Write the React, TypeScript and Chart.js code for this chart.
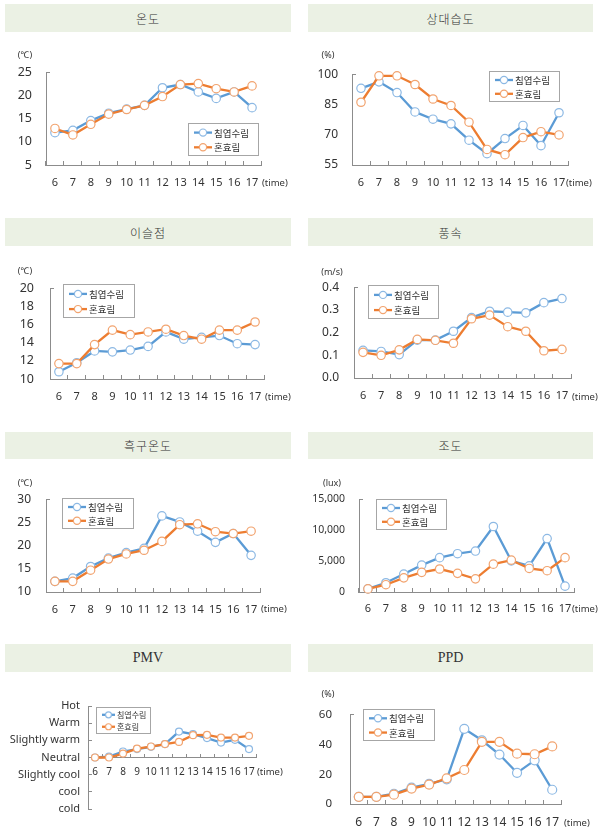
import React, { useEffect, useRef } from "react";
import { Chart, registerables } from "chart.js";

Chart.register(...registerables);

// ---------- data ----------
const hours = ["6", "7", "8", "9", "10", "11", "12", "13", "14", "15", "16", "17"];
const seriesNames = ["침엽수림", "혼효림"];

const tempConifer = [12.0, 12.5, 14.6, 16.2, 17.1, 17.9, 21.7, 22.4, 20.8, 19.4, 20.8, 17.4];
const tempMixed = [12.9, 11.5, 13.8, 16.0, 17.0, 17.9, 19.8, 22.4, 22.6, 21.5, 20.8, 22.1];

const humidConifer = [93.0, 96.2, 90.9, 81.3, 77.7, 75.4, 67.3, 60.6, 68.1, 74.6, 64.6, 80.9];
const humidMixed = [86.1, 99.2, 99.2, 94.9, 87.7, 84.5, 76.2, 62.7, 60.1, 68.6, 71.5, 69.9];

const dewConifer = [10.8, 11.8, 13.1, 13.0, 13.2, 13.6, 15.2, 14.4, 14.6, 14.8, 13.9, 13.8];
const dewMixed = [11.7, 11.7, 13.8, 15.4, 14.9, 15.2, 15.5, 14.8, 14.4, 15.4, 15.4, 16.3];

const windConifer = [0.122, 0.117, 0.103, 0.167, 0.167, 0.206, 0.266, 0.294, 0.29, 0.287, 0.332, 0.35];
const windMixed = [0.113, 0.1, 0.124, 0.17, 0.166, 0.153, 0.261, 0.277, 0.226, 0.206, 0.12, 0.126];

const globeConifer = [12.3, 13.0, 15.5, 17.3, 18.5, 19.4, 26.4, 25.1, 23.1, 20.7, 22.6, 17.9];
const globeMixed = [12.3, 12.3, 14.7, 17.1, 18.2, 19.0, 20.9, 24.5, 24.7, 23.0, 22.6, 23.1];

const luxConifer = [500, 1500, 2900, 4350, 5560, 6200, 6630, 10600, 5040, 4240, 8640, 950];
const luxMixed = [500, 1180, 2290, 3180, 3720, 3020, 2130, 4510, 5150, 3810, 3450, 5560];

const pmvConifer = [0.0, 0.05, 0.35, 0.49, 0.62, 0.78, 1.51, 1.36, 1.13, 0.87, 1.03, 0.49];
const pmvMixed = [0.0, 0.0, 0.23, 0.52, 0.64, 0.78, 0.91, 1.3, 1.32, 1.16, 1.16, 1.26];
const pmvLabels = ["cold", "cool", "Slightly cool", "Neutral", "Slightly warm", "Warm", "Hot"];

const ppdConifer = [4.8, 4.8, 6.9, 11.0, 13.5, 16.6, 50.6, 42.9, 33.3, 21.0, 29.4, 9.6];
const ppdMixed = [4.8, 4.8, 6.3, 10.4, 13.1, 17.3, 22.9, 41.9, 41.9, 33.9, 33.5, 38.8];

// ---------- styles ----------
const BLUE = "#5B9BD5";
const BLUE_PT = "#8DB9E4";
const ORANGE = "#ED7D31";
const ORANGE_PT = "#F2A470";
const AXIS = "#8C8C8C";
const TEXT = "#333333";
const BAR_BG = "#EBF1E4";
const SANS = '"Noto Sans", "Noto Sans CJK KR", sans-serif';
const KR = '"Noto Sans CJK KR", sans-serif';

type Spec = {
  title: string;
  col: number;
  bar: [number, number, number, number];
  area: { l: number; r: number; t: number; b: number };
  unit?: string;
  unitAt?: [number, number];
  timeAt: [number, number];
  legend: { x: number; y: number; w: number; h: number; font: number; line: number; r: number };
  yMin: number;
  yMax: number;
  yStep: number;
  yFmt: (v: number) => string;
  yFont: number;
  xFont: number;
  yGap: number;
  xLabelY: number;
  pointR: number;
  series: [number[], number[]];
  crossZero?: boolean;
};

const plain = (v: number) => String(v);

const specs: Spec[] = [
  {
    title: "온도", col: 0, bar: [5, 4, 286, 28], area: { l: 46, r: 261, t: 69, b: 165 },
    unit: "(℃)", unitAt: [25, 54], timeAt: [262, 183],
    legend: { x: 188, y: 123, w: 70, h: 32, font: 9.5, line: 18, r: 3.6 },
    yMin: 5, yMax: 25, yStep: 5, yFmt: plain, yFont: 12.5, xFont: 11, yGap: 14, xLabelY: 183,
    pointR: 4.2, series: [tempConifer, tempMixed],
  },
  {
    title: "상대습도", col: 1, bar: [308, 4, 285, 28], area: { l: 352, r: 568, t: 71, b: 165 },
    unit: "(%)", unitAt: [328, 54], timeAt: [566, 183],
    legend: { x: 489, y: 71, w: 70, h: 30, font: 9.5, line: 18, r: 3.6 },
    yMin: 55, yMax: 100, yStep: 15, yFmt: plain, yFont: 12, xFont: 11, yGap: 14, xLabelY: 183,
    pointR: 4.2, series: [humidConifer, humidMixed],
  },
  {
    title: "이슬점", col: 0, bar: [5, 218, 286, 28], area: { l: 50, r: 264, t: 283, b: 379 },
    unit: "(℃)", unitAt: [25, 270], timeAt: [265, 396.5],
    legend: { x: 63, y: 284, w: 71, h: 33, font: 9.5, line: 18, r: 3.6 },
    yMin: 10, yMax: 20, yStep: 2, yFmt: plain, yFont: 12.5, xFont: 11, yGap: 16, xLabelY: 396.5,
    pointR: 4.2, series: [dewConifer, dewMixed],
  },
  {
    title: "풍속", col: 1, bar: [308, 218, 285, 28], area: { l: 354, r: 571, t: 283, b: 378 },
    unit: "(m/s)", unitAt: [332, 271], timeAt: [572, 396.5],
    legend: { x: 368, y: 285, w: 70, h: 33, font: 9.5, line: 18, r: 3.6 },
    yMin: 0, yMax: 0.4, yStep: 0.1, yFmt: (v) => v.toFixed(1), yFont: 12, xFont: 11, yGap: 15, xLabelY: 396,
    pointR: 4.2, series: [windConifer, windMixed],
  },
  {
    title: "흑구온도", col: 0, bar: [5, 432, 286, 27], area: { l: 46, r: 260, t: 495, b: 592 },
    unit: "(℃)", unitAt: [25, 482], timeAt: [261, 609],
    legend: { x: 62, y: 498, w: 71, h: 30, font: 9.5, line: 18, r: 3.6 },
    yMin: 10, yMax: 30, yStep: 5, yFmt: plain, yFont: 12, xFont: 11, yGap: 15, xLabelY: 609.5,
    pointR: 4.2, series: [globeConifer, globeMixed],
  },
  {
    title: "조도", col: 1, bar: [308, 432, 285, 27], area: { l: 359, r: 574, t: 497, b: 592 },
    unit: "(lux)", unitAt: [332, 482], timeAt: [572, 609],
    legend: { x: 376, y: 499, w: 70, h: 30, font: 9.5, line: 18, r: 3.6 },
    yMin: 0, yMax: 15000, yStep: 5000, yFmt: (v) => v.toLocaleString("en-US"), yFont: 10.5, xFont: 11, yGap: 14, xLabelY: 609,
    pointR: 4.2, series: [luxConifer, luxMixed],
  },
  {
    title: "PMV", col: 0, bar: [5, 644, 286, 28], area: { l: 88, r: 256, t: 706, b: 809 },
    timeAt: [257, 771.7],
    legend: { x: 96, y: 707, w: 54, h: 26, font: 8, line: 13, r: 3 },
    yMin: -3, yMax: 3, yStep: 1, yFmt: (v) => pmvLabels[Math.round(v) + 3] ?? "", yFont: 11, xFont: 10, yGap: 8, xLabelY: 771.7,
    pointR: 3.5, series: [pmvConifer, pmvMixed], crossZero: true,
  },
  {
    title: "PPD", col: 1, bar: [308, 644, 285, 28], area: { l: 350, r: 561, t: 708, b: 804 },
    unit: "(%)", unitAt: [328, 693], timeAt: [564, 822.5],
    legend: { x: 363, y: 709, w: 71, h: 31, font: 9.5, line: 18, r: 3.6 },
    yMin: 0, yMax: 60, yStep: 20, yFmt: plain, yFont: 11.5, xFont: 12, yGap: 18, xLabelY: 822.5,
    pointR: 4.5, series: [ppdConifer, ppdMixed],
  },
];

// ---------- legend plugin ----------
const boxLegend = {
  id: "boxLegend",
  afterDatasetsDraw(chart: any, _args: any, opts: any) {
    if (!opts || opts.w == null) return;
    const { ctx } = chart;
    const { x, y, w, h, font, line, r } = opts;
    ctx.save();
    ctx.fillStyle = "#ffffff";
    ctx.fillRect(x, y, w, h);
    ctx.strokeStyle = "#A6A6A6";
    ctx.lineWidth = 1;
    ctx.strokeRect(Math.round(x) + 0.5, Math.round(y) + 0.5, Math.round(w), Math.round(h));
    const rows = [y + h * 0.3, y + h * 0.76];
    chart.data.datasets.forEach((ds: any, i: number) => {
      const cy = rows[i];
      const x0 = x + 6;
      ctx.strokeStyle = ds.borderColor;
      ctx.lineWidth = ds.borderWidth;
      ctx.beginPath();
      ctx.moveTo(x0, cy);
      ctx.lineTo(x0 + line, cy);
      ctx.stroke();
      ctx.beginPath();
      ctx.arc(x0 + line / 2, cy, r, 0, Math.PI * 2);
      ctx.fillStyle = "#ffffff";
      ctx.fill();
      ctx.strokeStyle = ds.pointBorderColor;
      ctx.lineWidth = 1.2;
      ctx.stroke();
      ctx.fillStyle = TEXT;
      ctx.font = `${font}px ${KR}`;
      ctx.textAlign = "left";
      ctx.textBaseline = "middle";
      ctx.fillText(ds.label, x0 + line + 2, cy + 0.5);
    });
    ctx.restore();
  },
};

function Panel({ spec }: { spec: Spec }) {
  const ref = useRef<HTMLCanvasElement>(null);
  const cx = spec.col ? 300 : 0;
  const cw = spec.col ? 303 : 300;
  const cy = spec.area.t - 22;
  const ch = spec.area.b - cy + 32;

  useEffect(() => {
    if (!ref.current) return;
    const a = spec.area;
    const axisY = spec.crossZero ? (a.t + a.b) / 2 : a.b;
    const xPad = spec.xLabelY - axisY - 0.6 * spec.xFont + 4;
    const chart = new Chart(ref.current, {
      type: "line",
      data: {
        labels: hours,
        datasets: [
          {
            label: seriesNames[0],
            data: spec.series[0],
            borderColor: BLUE,
            backgroundColor: BLUE,
            pointBorderColor: BLUE_PT,
            pointBackgroundColor: "#ffffff",
            borderWidth: 2.3,
            pointRadius: spec.pointR,
            pointBorderWidth: 1.2,
            tension: 0,
            clip: false,
            order: 2,
          } as any,
          {
            label: seriesNames[1],
            data: spec.series[1],
            borderColor: ORANGE,
            backgroundColor: ORANGE,
            pointBorderColor: ORANGE_PT,
            pointBackgroundColor: "#ffffff",
            borderWidth: 2.3,
            pointRadius: spec.pointR,
            pointBorderWidth: 1.2,
            tension: 0,
            clip: false,
            order: 1,
          } as any,
        ],
      },
      options: {
        responsive: false,
        animation: false,
        events: [],
        layout: {
          padding: {
            left: 0,
            top: a.t - cy,
            right: cx + cw - a.r,
            bottom: spec.crossZero ? cy + ch - a.b : 0,
          },
        },
        plugins: {
          legend: { display: false },
          tooltip: { enabled: false },
          boxLegend: {
            x: spec.legend.x - cx,
            y: spec.legend.y - cy,
            w: spec.legend.w,
            h: spec.legend.h,
            font: spec.legend.font,
            line: spec.legend.line,
            r: spec.legend.r,
          },
        } as any,
        scales: {
          x: {
            type: "category",
            offset: true,
            position: spec.crossZero ? ({ y: 0 } as any) : "bottom",
            grid: {
              offset: true,
              drawOnChartArea: false,
              drawTicks: true,
              tickLength: -4,
              color: AXIS,
            },
            border: { display: true, color: AXIS, width: 1 },
            ticks: {
              autoSkip: false,
              maxRotation: 0,
              padding: xPad,
              color: TEXT,
              font: { family: SANS, size: spec.xFont },
            },
            afterFit: spec.crossZero
              ? undefined
              : (s: any) => {
                  s.height = cy + ch - a.b;
                },
          } as any,
          y: {
            type: "linear",
            min: spec.yMin,
            max: spec.yMax,
            grid: {
              drawOnChartArea: false,
              drawTicks: true,
              tickLength: -4,
              color: (c: any) =>
                spec.crossZero || (c.tick && Math.abs(c.tick.value - spec.yMax) < 1e-9) ? AXIS : "rgba(0,0,0,0)",
            },
            border: { display: true, color: AXIS, width: 1 },
            ticks: {
              stepSize: spec.yStep,
              padding: spec.yGap + 4,
              color: TEXT,
              font: { family: SANS, size: spec.yFont },
              callback: (v: any) => spec.yFmt(Number(v)),
            },
            afterFit: (s: any) => {
              s.width = a.l - cx;
            },
          } as any,
        },
      },
      plugins: [boxLegend as any],
    });
    return () => chart.destroy();
  }, []);

  const [bx, by, bw, bh] = spec.bar;
  const latin = spec.title === "PMV" || spec.title === "PPD";
  return (
    <>
      <div
        style={{
          position: "absolute",
          left: bx,
          top: by,
          width: bw,
          height: bh,
          background: BAR_BG,
          display: "flex",
          alignItems: "center",
          justifyContent: "center",
          fontFamily: latin ? '"Liberation Serif", serif' : KR,
          fontSize: latin ? 14 : 12,
          fontWeight: latin ? 400 : 300,
          letterSpacing: latin ? 0 : 1,
          color: "#333333",
        }}
      >
        {spec.title}
      </div>
      <canvas
        ref={ref}
        width={cw}
        height={ch}
        style={{ position: "absolute", left: cx, top: cy, width: cw, height: ch }}
      />
      {spec.unit && spec.unitAt && (
        <span
          style={{
            position: "absolute",
            left: spec.unitAt[0],
            top: spec.unitAt[1],
            transform: "translate(-50%, -50%)",
            fontFamily: SANS,
            fontSize: 9,
            color: TEXT,
            whiteSpace: "nowrap",
            lineHeight: 1,
          }}
        >
          {spec.unit}
        </span>
      )}
      <span
        style={{
          position: "absolute",
          left: spec.timeAt[0],
          top: spec.timeAt[1],
          transform: "translateY(-50%)",
          fontFamily: SANS,
          fontSize: 9.5,
          color: TEXT,
          whiteSpace: "nowrap",
          lineHeight: 1,
        }}
      >
        (time)
      </span>
    </>
  );
}

export default function App() {
  return (
    <div
      style={{
        position: "absolute",
        left: 0,
        top: 0,
        width: 603,
        height: 840,
        background: "#ffffff",
        overflow: "hidden",
      }}
    >
      {specs.map((s) => (
        <Panel key={s.title} spec={s} />
      ))}
    </div>
  );
}
